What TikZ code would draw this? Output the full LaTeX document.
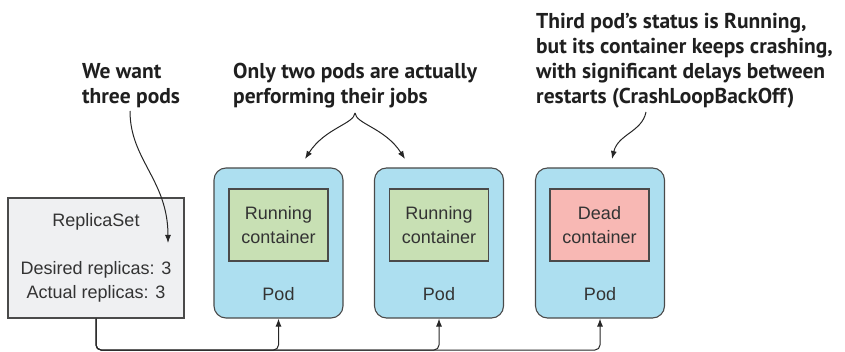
\documentclass[tikz,border=0pt]{standalone}
\usepackage{fontspec}
\setmainfont{Liberation Sans}
\newfontfamily\notefont{PT Sans}
\usetikzlibrary{arrows.meta}
\definecolor{txt}{HTML}{333333}
\definecolor{edge}{HTML}{4A4A4A}
\definecolor{rsfill}{HTML}{EFF0F2}
\definecolor{podfill}{HTML}{ADDFF0}
\definecolor{runfill}{HTML}{C8E0B4}
\definecolor{deadfill}{HTML}{F8B8B4}
\tikzset{
  rsbox/.style={draw=edge, line width=1.1pt, fill=rsfill, minimum width=176pt, minimum height=120pt, inner sep=0pt},
  podbox/.style={draw=edge, line width=1.1pt, fill=podfill, rounded corners=12pt, minimum width=129pt, minimum height=150pt, inner sep=0pt},
  runbox/.style={draw=edge, line width=1.1pt, fill=runfill, minimum width=99pt, minimum height=72pt, inner sep=0pt, align=center, text=txt, font=\fontsize{18}{24}\selectfont},
  deadbox/.style={runbox, fill=deadfill},
  plain/.style={text=txt, font=\fontsize{18}{24}\selectfont, inner sep=0pt},
  note/.style={text=black!88, font=\notefont\bfseries\fontsize{21.5}{25}\selectfont, align=left, inner sep=0pt, anchor=base west},
  conn/.style={draw=black!85, line width=1pt, -{Latex[length=8pt,width=6pt]}},
}
\begin{document}
\begin{tikzpicture}[x=1pt,y=-1pt]
\useasboundingbox (0,0) rectangle (845,352);
% ReplicaSet
\node[rsbox] (rs) at (96,258) {};
\node[plain] (rstitle) at (96,222) {ReplicaSet};
\node[plain] (rsdes) at (96,270) {Desired replicas: 3};
\node[plain] (rsact) at (96,294) {Actual replicas: 3};
% Pods
\node[podbox] (pod1) at (278.5,243) {};
\node[podbox] (pod2) at (439,243) {};
\node[podbox] (pod3) at (600,243) {};
\node[runbox] (c1) at (278.5,225) {Running\\container};
\node[runbox] (c2) at (439,225) {Running\\container};
\node[deadbox] (c3) at (599.5,225) {Dead\\container};
\node[plain] (p1) at (278.5,294) {Pod};
\node[plain] (p2) at (439,294) {Pod};
\node[plain] (p3) at (600,294) {Pod};
% Notes (anchor = baseline of last line)
\node[note] (n1) at (82,104) {We want\\three pods};
\node[note] (n2) at (233,104) {Only two pods are actually\\performing their jobs};
\node[note] (n3) at (536,104) {Third pod’s status is Running,\\but its container keeps crashing,\\with significant delays between\\restarts (CrashLoopBackOff)};
% Note arrows
\coordinate (a1) at (130,111);
\coordinate (t1) at (168,243);
\draw[conn] (a1) .. controls (130,160) and (168,180) .. (t1);
\coordinate (a2) at (355,113);
\coordinate (t2l) at (305,159);
\coordinate (t2r) at (405,159);
\draw[conn] (a2) .. controls (354,124) and (325,128) .. (t2l);
\draw[conn] (a2) .. controls (356,124) and (385,128) .. (t2r);
\coordinate (a3) at (646,112);
\coordinate (t3) at (612,159);
\draw[conn] (a3) .. controls (642,132) and (618,134) .. (t3);
% Bottom connectors
\coordinate (busy) at (0,350);
\foreach \p in {pod1,pod2,pod3}{
  \draw[conn, rounded corners=5pt] (rs.south) -- (rs.south |- busy) -| (\p.south);
}
\end{tikzpicture}
\end{document}
